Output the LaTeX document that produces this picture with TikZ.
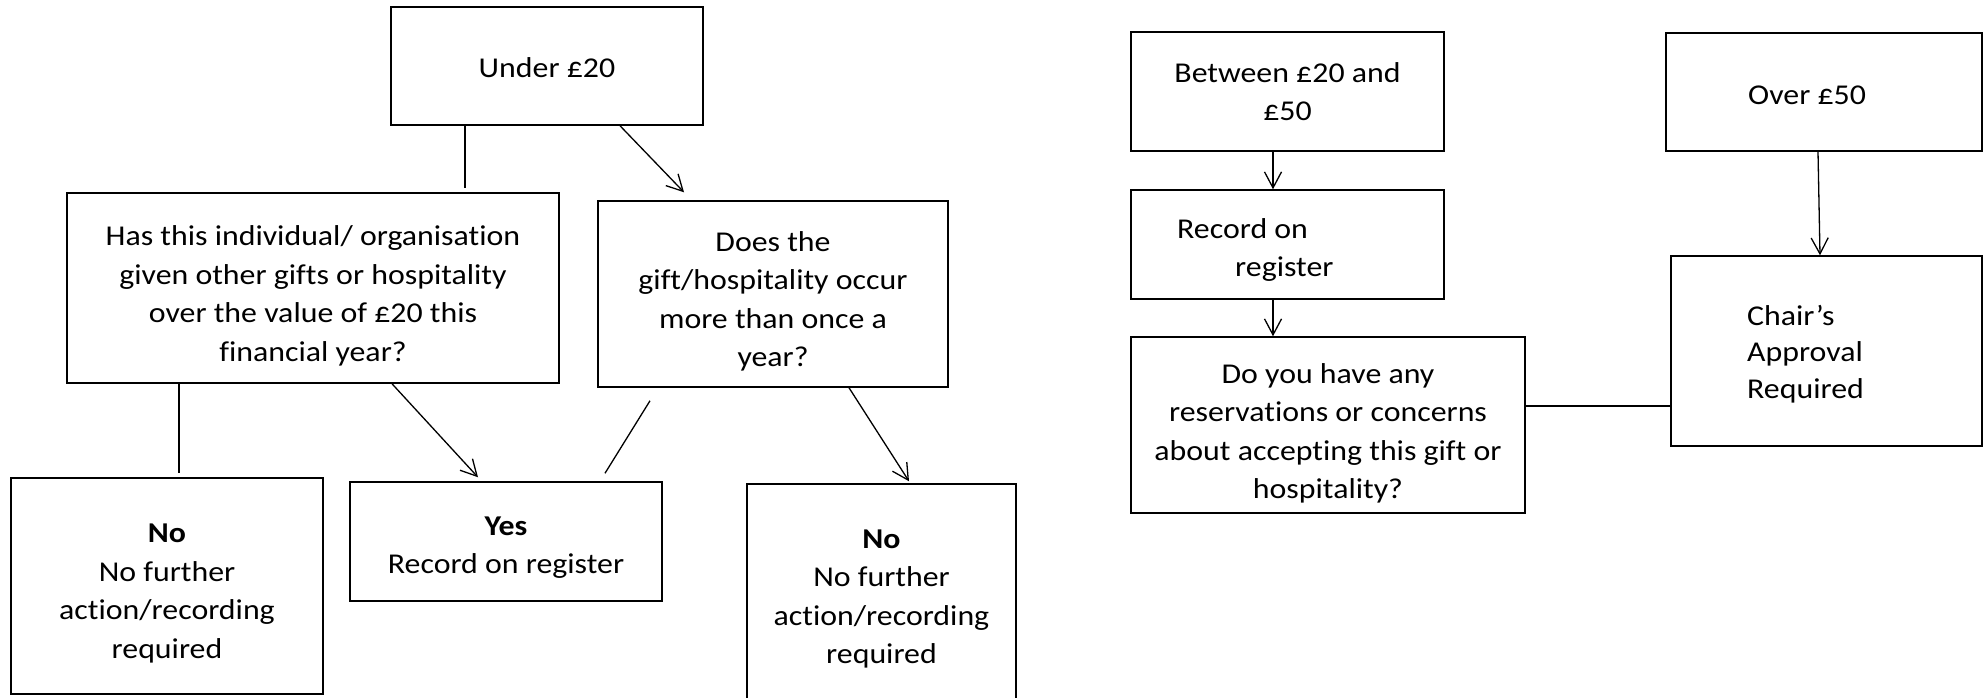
\documentclass[tikz,border=0pt]{standalone}
\usepackage{fontspec}
\setmainfont{Carlito}[FakeStretch=1.11,Ligatures=NoCommon]
\usetikzlibrary{arrows.meta}
\begin{document}
\begin{tikzpicture}[x=1pt,y=-1pt,
  box/.style={draw=black, line width=1.5pt, inner sep=0pt},
  txt/.style={align=center, inner sep=0pt, font=\fontsize{28.7}{38.5}\selectfont},
  txtl/.style={align=left, inner sep=0pt, anchor=west, font=\fontsize{28.7}{38.5}\selectfont},
  link/.style={line width=1.3pt},
  arr/.style={line width=1.3pt, -{Straight Barb[length=16pt,width=17pt,line width=1.3pt]}}]
\useasboundingbox (0,0) rectangle (1984,697);
\fill[white] (0,0) rectangle (1984,697);

% ---------- left part ----------
\node[box, minimum width=312pt, minimum height=118pt] (under) at (547,66) {};
\node[box, minimum width=492pt, minimum height=190pt] (has) at (313,288) {};
\node[box, minimum width=350pt, minimum height=186pt] (does) at (773,294) {};
\node[box, minimum width=312pt, minimum height=216pt] (no1) at (167,586) {};
\node[box, minimum width=312pt, minimum height=119pt] (yes) at (506,541.5) {};
\node[box, minimum width=269pt, minimum height=226pt] (no2) at (881.5,597) {};

\node[txt] (undert) at ([yshift=-2pt]under.center) {Under £20};
\node[txt] (hast) at ([yshift=-8pt]has.center) {Has this individual/ organisation\\given other gifts or hospitality\\over the value of £20 this\\financial year?};
\node[txt] (doest) at ([yshift=-7.5pt]does.center) {Does the\\gift/hospitality occur\\more than once a\\year?};
\node[txt] (no1t) at ([yshift=-7.5pt]no1.center) {\textbf{No}\\No further\\action/recording\\required};
\node[txt] (yest) at ([yshift=-6pt]yes.center) {\textbf{Yes}\\Record on register};
\node[txt] (no2t) at ([yshift=-2pt]no2.center) {\textbf{No}\\No further\\action/recording\\required};

\draw[link] ([xshift=-82pt]under.south) -- ([xshift=152pt,yshift=4pt]has.north);
\draw[arr] ([xshift=73pt]under.south) -- ([xshift=-89pt,yshift=8pt]does.north);
\draw[link] ([xshift=-134pt]has.south) -- ([xshift=12pt,yshift=4pt]no1.north);
\draw[arr] ([xshift=79pt]has.south) -- ([xshift=-28pt,yshift=4pt]yes.north);
\draw[link] ([xshift=-123pt,yshift=-13pt]does.south) -- ([xshift=99pt,yshift=8pt]yes.north);
\draw[arr] ([xshift=76pt]does.south) -- ([xshift=27.5pt,yshift=2pt]no2.north);

% ---------- right part ----------
\node[box, minimum width=313pt, minimum height=119pt] (between) at (1287.5,91.5) {};
\node[box, minimum width=313pt, minimum height=109pt] (record) at (1287.5,244.5) {};
\node[box, minimum width=394pt, minimum height=176pt] (do) at (1328,425) {};
\node[box, minimum width=316pt, minimum height=118pt] (over) at (1824,92) {};
\node[box, minimum width=311pt, minimum height=190pt] (chair) at (1826.5,351) {};

\node[txt] (betweent) at (between.center) {Between £20 and\\£50};
\node[txtl] (recordt) at (1177,250) {Record on\\\hspace*{58pt}register};
\node[txt] (dot) at ([yshift=-8.5pt]do.center) {Do you have any\\reservations or concerns\\about accepting this gift or\\hospitality?};
\node[txtl] (overt) at (1748,95) {Over £50};
\node[txtl, font=\fontsize{28.7}{36.5}\selectfont] (chairt) at (1747,354) {Chair’s\\Approval\\Required};

\draw[arr] ([xshift=-14.5pt]between.south) -- ([xshift=-14.5pt]record.north);
\draw[arr] ([xshift=-14.5pt]record.south) -- ([xshift=-55pt]do.north);
\draw[arr] ([xshift=-6pt]over.south) -- ([xshift=-6.5pt]chair.north);
\draw[line width=2pt] ([yshift=19pt]do.east) -- ([yshift=19pt]do.east -| chair.west);
\end{tikzpicture}
\end{document}
